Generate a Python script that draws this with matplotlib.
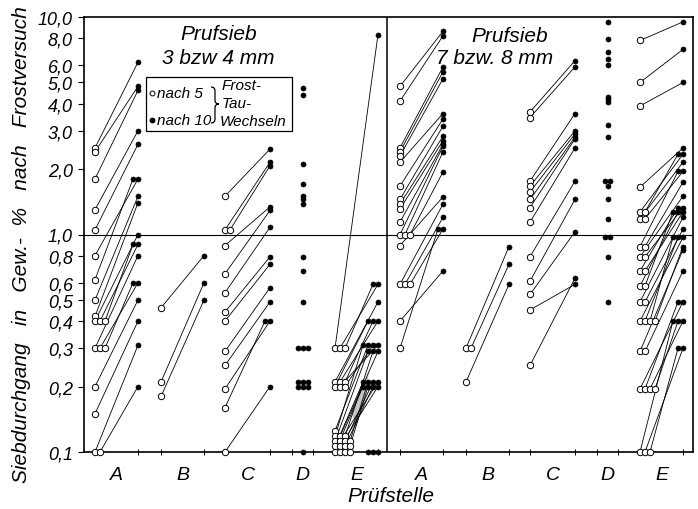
import numpy as np
import matplotlib
matplotlib.use('Agg')
import matplotlib.pyplot as plt
from matplotlib.patches import Rectangle, Polygon, PathPatch
from matplotlib.path import Path

plt.rcParams['font.family'] = ['Liberation Sans', 'DejaVu Sans']
plt.rcParams['font.style'] = 'italic'

W, H = 698, 510

# Siebdurchgang in Gew.-% nach 5 (open) und nach 10 (filled) Frost-Tau-Wechseln
# Prufsieb 3 bzw 4 mm
a1_5  = [2.5, 2.4, 1.8, 1.3, 1.05, 0.8, 0.62, 0.5, 0.42, 0.4, 0.4, 0.4, 0.3, 0.3, 0.3, 0.2, 0.15, 0.1, 0.1]
a1_10 = [6.2, 4.8, 4.6, 3.0, 2.6, 1.8, 1.8, 1.5, 1.4, 1.0, 0.9, 0.9, 0.8, 0.6, 0.6, 0.5, 0.4, 0.31, 0.2]
b1_5  = [0.46, 0.21, 0.18]
b1_10 = [0.8, 0.6, 0.5]
c1_5  = [1.5, 1.05, 1.05, 0.89, 0.66, 0.54, 0.44, 0.40, 0.29, 0.25, 0.195, 0.16, 0.1]
c1_10 = [2.47, 2.15, 2.07, 1.34, 1.29, 1.08, 0.79, 0.73, 0.57, 0.49, 0.4, 0.4, 0.2]
d1_10 = [4.7, 4.4, 2.1, 1.7, 1.5, 1.45, 1.38, 0.79, 0.68, 0.49, 0.3, 0.3, 0.3,
         0.21, 0.21, 0.21, 0.2, 0.2, 0.2, 0.1]
e1_5  = [0.3, 0.3, 0.3, 0.21, 0.21, 0.21, 0.2, 0.2, 0.2, 0.125, 0.118, 0.118, 0.118,
         0.112, 0.112, 0.112, 0.112, 0.106, 0.106, 0.106, 0.106, 0.1, 0.1, 0.1, 0.1]
e1_10 = [8.3, 0.59, 0.59, 0.49, 0.4, 0.4, 0.4, 0.31, 0.31, 0.31, 0.31, 0.29, 0.29,
         0.29, 0.21, 0.21, 0.21, 0.21, 0.2, 0.2, 0.2, 0.2, 0.1, 0.1, 0.1]

# Prufsieb 7 bzw. 8 mm
a2_5  = [4.8, 4.1, 2.5, 2.4, 2.3, 2.15, 1.67, 1.45, 1.38, 1.31, 1.14, 1.0, 1.0, 1.0,
         0.89, 0.59, 0.59, 0.59, 0.4, 0.3]
a2_10 = [8.6, 8.2, 5.9, 5.6, 5.2, 3.6, 3.4, 3.15, 2.83, 2.7, 2.6, 2.55, 2.4, 1.94,
         1.49, 1.38, 1.2, 1.06, 0.68, 1.06]
b2_5  = [0.3, 0.3, 0.21]
b2_10 = [0.88, 0.73, 0.59]
c2_5  = [3.66, 3.45, 1.76, 1.67, 1.57, 1.45, 1.33, 1.14, 0.79, 0.61, 0.53, 0.45, 0.25]
c2_10 = [6.3, 5.9, 3.6, 3.0, 2.9, 2.8, 2.75, 2.5, 1.76, 1.45, 1.03, 0.59, 0.63]
d2_10 = [9.5, 7.9, 6.9, 6.4, 6.0, 4.3, 4.2, 4.06, 3.2, 2.8, 1.76, 1.76, 1.67, 1.45,
         1.18, 0.97, 0.97, 0.79, 0.49]
e2_5  = [7.8, 5.0, 3.9, 1.65, 1.27, 1.27, 1.18, 1.18, 0.88, 0.88, 0.79, 0.79, 0.68,
         0.68, 0.58, 0.58, 0.49, 0.49, 0.4, 0.4, 0.4, 0.4, 0.29, 0.29, 0.195, 0.195,
         0.195, 0.195, 0.1, 0.1, 0.1]
e2_10 = [9.5, 7.1, 5.0, 2.5, 2.34, 2.34, 2.15, 1.95, 1.95, 1.74, 1.5, 1.33, 1.33,
         1.27, 1.27, 1.27, 1.2, 1.06, 0.97, 0.97, 0.97, 0.88, 0.85, 0.68, 0.49, 0.49,
         0.4, 0.4, 0.4, 0.3, 0.3]

categories = ['A', 'B', 'C', 'D', 'E']
yticks = [0.1, 0.2, 0.3, 0.4, 0.5, 0.6, 0.8, 1, 2, 3, 4, 5, 6, 8, 10]
ytick_labels = [f'{v:.1f}'.replace('.', ',') for v in yticks]

# horizontal layout (x axis runs in pixel units)
x_left = {'A': (95, 138), 'B': (161, 204), 'C': (225, 270), 'D': (292, 313), 'E': (335, 378)}
panel_shift = 305
step = 5

pairs = {
    0: {'A': (a1_5, a1_10), 'B': (b1_5, b1_10), 'C': (c1_5, c1_10), 'E': (e1_5, e1_10)},
    1: {'A': (a2_5, a2_10), 'B': (b2_5, b2_10), 'C': (c2_5, c2_10), 'E': (e2_5, e2_10)},
}
singles = {0: d1_10, 1: d2_10}


def dup_index(vals):
    seen, out = {}, []
    for v in vals:
        k = seen.get(v, 0)
        seen[v] = k + 1
        out.append(k)
    return np.array(out), seen


fig = plt.figure(figsize=(W / 100, H / 100), dpi=100)
ax = fig.add_axes([84 / W, 1 - 453 / H, (693 - 84) / W, (453 - 18) / H])
ax.set_yscale('log')
ax.set_xlim(84, 693)
ax.set_ylim(0.1, 10)

open_kw = dict(ls='none', marker='o', ms=4.6, mfc='white', mec='black', mew=0.7,
               clip_on=False, zorder=4)
fill_kw = dict(ls='none', marker='o', ms=3.6, mfc='black', mec='black', mew=0.5,
               clip_on=False, zorder=5)

for panel in (0, 1):
    shift = panel * panel_shift
    for cat, (v5, v10) in pairs[panel].items():
        x0, x1 = x_left[cat]
        k5, _ = dup_index(v5)
        k10, _ = dup_index(v10)
        xo = x0 + shift + k5 * step
        xf = x1 + shift - k10 * step
        for a, b, c, d in zip(xo, xf, v5, v10):
            ax.plot([a, b], [c, d], color='black', lw=0.6, zorder=3)
        ax.plot(xo, v5, **open_kw)
        ax.plot(xf, v10, **fill_kw)

    dv = singles[panel]
    kd, counts = dup_index(dv)
    xc = (x_left['D'][0] + x_left['D'][1]) / 2 + shift
    xd = [xc + step * (k - (counts[v] - 1) / 2) for k, v in zip(kd, dv)]
    ax.plot(xd, dv, **fill_kw)

# dense bundle of lines in E (3/4 mm) shown as grey band
k5, _ = dup_index(e1_5)
k10, _ = dup_index(e1_10)
xo = x_left['E'][0] + k5 * step
xf = x_left['E'][1] - k10 * step


def along(i, t):
    x = xo[i] + t * (xf[i] - xo[i])
    v = e1_5[i] * (e1_10[i] / e1_5[i]) ** t
    return x, v


i_top, i_bot = 11, 20
ts = (0.3, 0.78)
pts = [along(i_top, ts[0]), along(i_top, ts[1]), along(i_bot, ts[1]), along(i_bot, ts[0])]
ax.add_patch(Polygon(pts, closed=True, fc='#c4c4c4', ec='none', zorder=2))

ax.axhline(1.0, color='black', lw=0.8, zorder=1)
ax.axvline(387, color='black', lw=1.1, zorder=1)

for s in ax.spines.values():
    s.set_linewidth(1.2)

ax.set_yticks(yticks)
ax.set_yticklabels(ytick_labels, fontsize=13)
ax.yaxis.set_minor_locator(matplotlib.ticker.NullLocator())
ax.tick_params(axis='y', direction='out', length=4, width=0.8, pad=4)

xt_major, xt_minor = [], []
for shift in (0, panel_shift):
    for cat in categories:
        a, b = x_left[cat]
        xt_major += [a + shift, b + shift]
        xt_minor.append((a + b) / 2 + shift)
ax.set_xticks(xt_major)
ax.set_xticklabels([])
ax.set_xticks(xt_minor, minor=True)
ax.set_xticklabels(categories * 2, minor=True, fontsize=14)
ax.tick_params(axis='x', which='major', direction='inout', length=5, width=0.7)
ax.tick_params(axis='x', which='minor', length=0, pad=10)


def px(x, y):
    return x / W, 1 - y / H


fig.text(*px(219, 35), 'Prufsieb', fontsize=15, ha='center', va='center')
fig.text(*px(218, 58), '3 bzw 4 mm', fontsize=15, ha='center', va='center')
fig.text(*px(510, 37), 'Prufsieb', fontsize=15, ha='center', va='center')
fig.text(*px(495, 58), '7 bzw. 8 mm', fontsize=15, ha='center', va='center')

# legend
bx0, by0 = px(146, 132)
bx1, by1 = px(292, 78)
fig.add_artist(Rectangle((bx0, by0), bx1 - bx0, by1 - by0, transform=fig.transFigure,
                         fill=False, ec='black', lw=0.9))
fig.add_artist(plt.Line2D([px(152, 0)[0]], [px(0, 94)[1]], transform=fig.transFigure,
                          marker='o', ms=3.5, mfc='white', mec='black', mew=0.7))
fig.add_artist(plt.Line2D([px(152, 0)[0]], [px(0, 121)[1]], transform=fig.transFigure,
                          marker='o', ms=3.2, mfc='black', mec='black'))
fig.text(*px(157, 94), 'nach 5', fontsize=11, ha='left', va='center')
fig.text(*px(157, 121), 'nach 10', fontsize=11, ha='left', va='center')

# curly brace joining both rows
brace = [(211, 88), (215, 88), (215, 92), (215, 101), (215, 105), (219, 105),
         (215, 105), (215, 109), (215, 120), (215, 124), (211, 124)]
codes = [Path.MOVETO, Path.CURVE3, Path.CURVE3, Path.LINETO, Path.CURVE3, Path.CURVE3,
         Path.CURVE3, Path.CURVE3, Path.LINETO, Path.CURVE3, Path.CURVE3]
fig.add_artist(PathPatch(Path([px(x, y) for x, y in brace], codes),
                         transform=fig.transFigure, fill=False, ec='black', lw=0.9))

fig.text(*px(222, 86), 'Frost-', fontsize=11, ha='left', va='center')
fig.text(*px(222, 104), 'Tau-', fontsize=11, ha='left', va='center')
fig.text(*px(220, 122), 'Wechseln', fontsize=11, ha='left', va='center')

fig.text(*px(22, 245), 'Siebdurchgang   in   Gew.-  %   nach   Frostversuch', fontsize=15,
         rotation=90, ha='center', va='center')
fig.text(*px(391, 497), 'Prüfstelle', fontsize=15, ha='center', va='center')

fig.savefig('out.png', dpi=100)
